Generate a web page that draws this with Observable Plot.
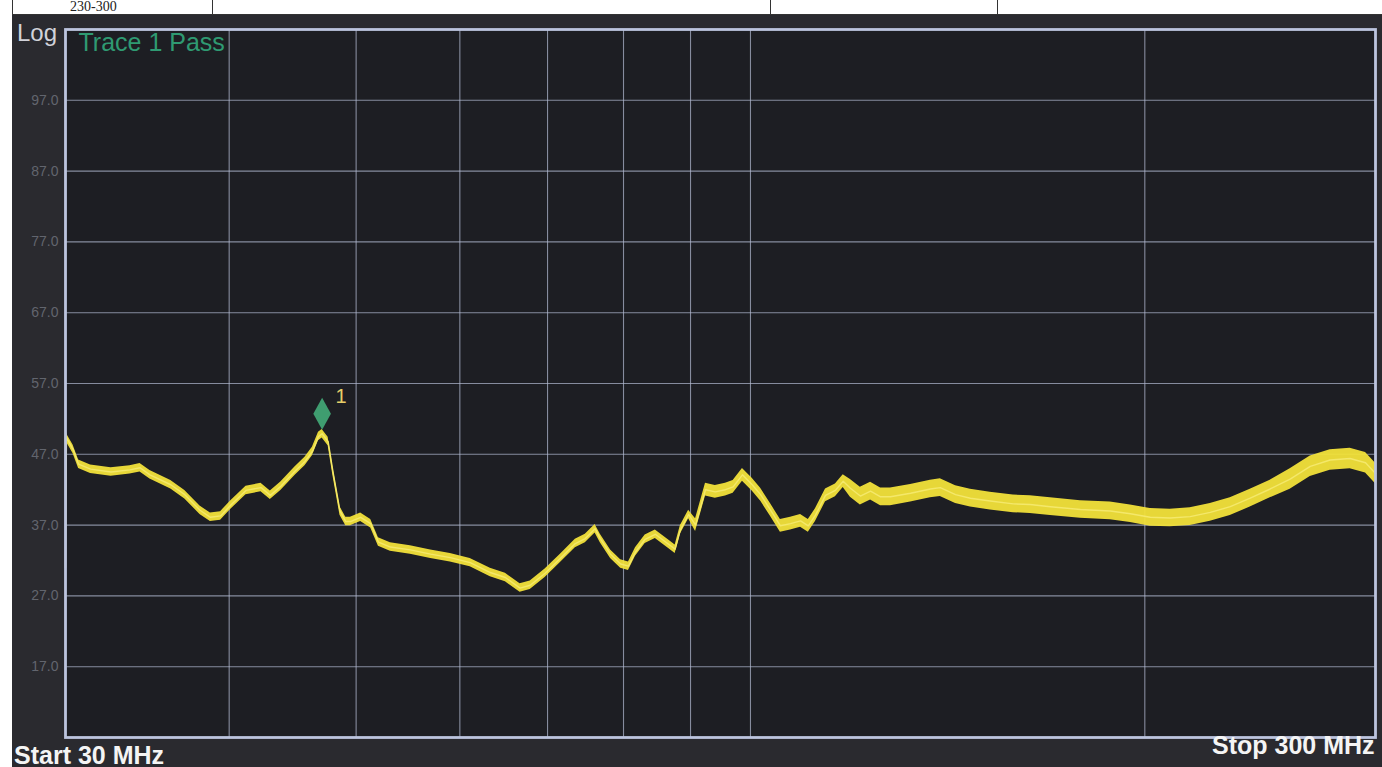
<!DOCTYPE html>
<html>
<head>
<meta charset="utf-8">
<script src="https://cdn.jsdelivr.net/npm/d3@7"></script>
<script src="https://cdn.jsdelivr.net/npm/@observablehq/plot@0.6"></script>
<style>
  html, body { margin: 0; padding: 0; background: #fff; width: 1382px; height: 767px; overflow: hidden; }
  #head { position: absolute; left: 0; top: 0; width: 1382px; height: 15px; background: #fff; }
  #head .cell { position: absolute; top: 0; height: 15px; border-left: 1px solid #333; }
  #head .txt { position: absolute; left: 70px; top: 0px; font: 14px/14px "Liberation Serif", serif; color: #222; }
  #head .bot { position: absolute; left: 12px; right: 0; top: 14px; height: 1px; background: #333; }
  #panel { position: absolute; left: 12px; top: 15px; width: 1370px; height: 752px; background: #2a2a2f; }
  .lbl { position: absolute; font-family: "Liberation Sans", Arial, sans-serif; line-height: 1; white-space: nowrap; }
</style>
</head>
<body>
<div id="head">
  <div class="cell" style="left:12px"></div>
  <div class="cell" style="left:212px"></div>
  <div class="cell" style="left:770px"></div>
  <div class="cell" style="left:997px"></div>
  <div class="txt">230-300</div>
  <div class="bot"></div>
</div>
<div id="panel"></div>
<div class="lbl" style="left:17px;top:21px;font-size:24px;color:#d2d3da;">Log</div>
<div class="lbl" style="left:14px;top:743px;font-size:25px;font-weight:bold;color:#f4f4f4;">Start 30 MHz</div>
<div class="lbl" style="left:1212px;top:733px;font-size:25px;font-weight:bold;color:#f4f4f4;">Stop 300 MHz</div>
<script>
// Frequencies (MHz)
const freq = [30.0, 30.05, 30.1, 30.4, 30.7, 31.35, 32.5, 33.6, 34.2, 34.8, 36.1, 37.0, 38.0, 38.7, 39.4, 40.1, 41.2, 42.3, 43.0, 43.8, 44.9, 45.7, 46.3, 46.8, 47.1, 47.6, 48.0, 48.6, 49.1, 49.5, 50.4, 51.3, 52.0, 53.1, 55.0, 57.0, 59.0, 61.1, 63.3, 65.0, 66.7, 67.9, 69.7, 71.6, 73.5, 74.8, 76.1, 76.8, 78.2, 79.6, 80.7, 81.7, 83.1, 84.6, 86.6, 87.6, 88.4, 89.7, 90.8, 92.4, 94.0, 95.7, 97.0, 98.6, 100.3, 101.8, 103.6, 105.4, 107.3, 109.2, 110.7, 112.1, 114.1, 116.1, 117.7, 119.2, 121.3, 123.5, 125.7, 127.9, 132.5, 137.2, 139.6, 143.4, 147.2, 152.4, 158.7, 163.5, 169.4, 178.6, 188.2, 195.0, 201.9, 209.1, 216.6, 224.4, 232.4, 240.7, 249.3, 258.2, 267.5, 277.0, 286.9, 294.8, 300];
// Trace level (dB) at those frequencies
const level = [31.0, 49.5, 49.1, 47.7, 45.6, 44.9, 44.5, 44.8, 45.1, 44.1, 42.7, 41.3, 39.1, 38.1, 38.3, 39.8, 41.9, 42.3, 41.2, 42.5, 44.6, 46.0, 47.4, 49.5, 49.9, 48.8, 44.6, 39.0, 37.5, 37.5, 38.1, 37.2, 34.6, 33.9, 33.5, 32.9, 32.4, 31.7, 30.3, 29.6, 28.1, 28.5, 30.2, 32.3, 34.4, 35.1, 36.5, 35.1, 32.9, 31.5, 31.2, 33.2, 35.0, 35.7, 34.3, 33.6, 36.3, 38.5, 37.0, 42.0, 41.7, 42.0, 42.4, 44.1, 42.7, 41.3, 39.1, 36.9, 37.2, 37.6, 36.9, 38.4, 41.2, 41.9, 43.2, 42.2, 41.1, 41.8, 41.0, 41.0, 41.5, 42.1, 42.3, 41.3, 40.8, 40.4, 40.0, 39.9, 39.6, 39.2, 39.0, 38.6, 38.1, 38.0, 38.2, 38.8, 39.6, 40.8, 42.1, 43.5, 45.3, 46.2, 46.4, 45.8, 44.3];
// Half-width of the noise band (dB) by frequency segment
const bandFrom = [30, 90, 118, 250];
const bandHalf = [0.6, 0.9, 1.25, 1.45];
// Axis ticks / grid
const yTicks = [17, 27, 37, 47, 57, 67, 77, 87, 97];
const xGrid = [40, 50, 60, 70, 80, 90, 100, 200];
// Marker 1
const markerFreq = [47.1];
const markerLevel = [49.9];
const markerLabel = ["1"];

const half = f => { let h = bandHalf[0]; bandFrom.forEach((b, i) => { if (f >= b) h = bandHalf[i]; }); return h; };
const trace = freq.map((f, i) => ({f, v: level[i], lo: level[i] - half(f), hi: level[i] + half(f)}));
const markers = markerFreq.map((f, i) => ({f, v: markerLevel[i], t: markerLabel[i]}));

const tallDiamond = {
  draw(ctx, size) {
    const r = Math.sqrt(size / Math.PI);
    const w = r * 0.55;
    ctx.moveTo(0, -r); ctx.lineTo(w, 0); ctx.lineTo(0, r); ctx.lineTo(-w, 0); ctx.closePath();
  }
};

const grid = "#b4bbd3";
const chart = Plot.plot({
  width: 1370,
  height: 752,
  marginLeft: 53,
  marginRight: 7,
  marginTop: 14,
  marginBottom: 30,
  style: {background: "transparent", fontFamily: "Liberation Sans, Arial, sans-serif", overflow: "visible"},
  x: {type: "log", domain: [30, 300], axis: null},
  y: {domain: [7, 107], axis: null},
  marks: [
    Plot.frame({fill: "#1d1e23", stroke: "none"}),
    Plot.ruleY(yTicks, {stroke: grid, strokeOpacity: 0.7, strokeWidth: 1.1}),
    Plot.ruleX(xGrid, {stroke: grid, strokeOpacity: 0.7, strokeWidth: 1.1}),
    Plot.axisY(yTicks, {tickSize: 0, tickPadding: 7, tickFormat: d => d.toFixed(1), fill: "#62656e", fontSize: 14}),
    Plot.areaY(trace, {x: "f", y1: "lo", y2: "hi", fill: "#f2e23a", fillOpacity: 0.95}),
    Plot.lineY(trace, {x: "f", y: "v", stroke: "#f4e86a", strokeWidth: 1.4}),
    Plot.dot(markers, {x: "f", y: "v", symbol: tallDiamond, r: 16, fill: "#3f9d70", stroke: "none", dy: -20}),
    Plot.text(markers, {x: "f", y: "v", text: "t", dx: 19, dy: -37, fill: "#e6cf6a", fontSize: 20, textAnchor: "middle"}),
    Plot.text(["Trace 1 Pass"], {frameAnchor: "top-left", dx: 13, dy: 4, fill: "#2f9a72", fontSize: 25, textAnchor: "start", lineAnchor: "top"}),
    Plot.frame({stroke: "#bcc4de", strokeWidth: 2.8})
  ]
});
document.getElementById("panel").appendChild(chart);
</script>
</body>
</html>
